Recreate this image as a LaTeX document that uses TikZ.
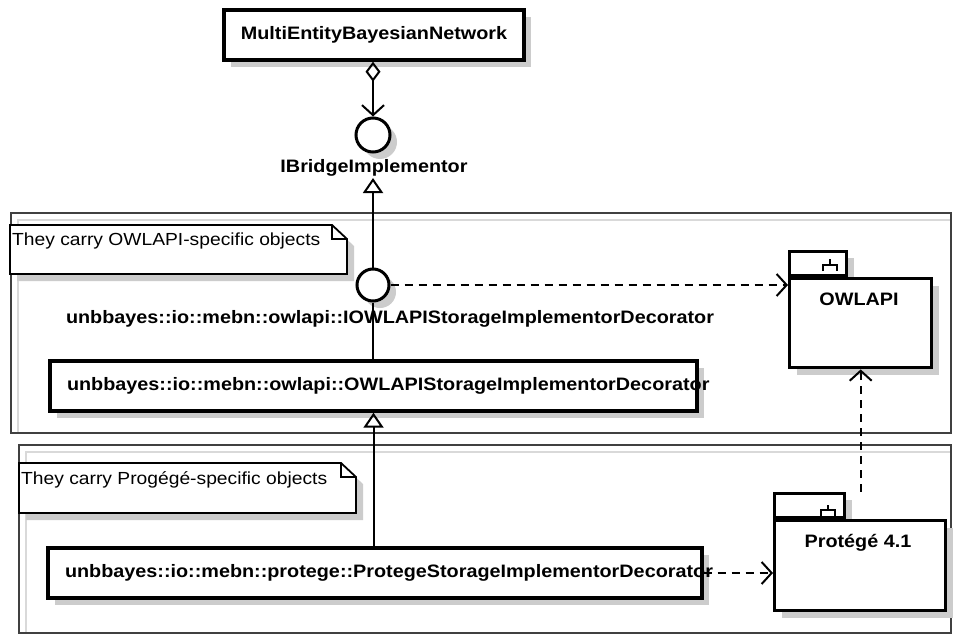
\documentclass[tikz,border=0pt]{standalone}
\usepackage{fontspec}
\newfontfamily\umlfont{Liberation Sans}[FakeStretch=1.1]
\usetikzlibrary{arrows.meta,shadows}
\begin{document}
\begin{tikzpicture}[x=1pt,y=-1pt,
  shad/.style={drop shadow={shadow xshift=7pt,shadow yshift=-7pt,fill=black!20,opacity=1}},
  cls/.style={draw,line width=3.4pt,fill=white,shad,rectangle,inner xsep=17pt,inner ysep=0pt,
    font=\umlfont\bfseries\fontsize{18}{21}\selectfont},
  iface/.style={draw,circle,line width=3pt,fill=white,inner sep=0pt,shad},
  pkg/.style={draw,line width=3.4pt,fill=white,shad,rectangle,inner sep=0pt},
  lbl/.style={font=\umlfont\bfseries\fontsize{18}{21}\selectfont,inner sep=0pt},
  notetxt/.style={font=\umlfont\fontsize{17.5}{20}\selectfont,inner sep=0pt,anchor=north west},
  notebox/.style={draw,line width=1.8pt,fill=white,shad},
  frame/.style={draw=black!75,line width=1.6pt,rectangle,inner sep=0pt,anchor=north west},
  frameshade/.style={draw=black!15,line width=1.2pt},
  conn/.style={line width=2pt},
  icon/.style={line width=1.8pt},
  aggr/.style={line width=2pt,{Diamond[open,length=20pt,width=15pt,line width=2pt]}-{Straight Barb[length=10pt,width=22pt,line width=2pt]}},
  dep/.style={line width=2pt,dash pattern=on 8pt off 6pt,-{Straight Barb[length=10pt,width=22pt,line width=2pt]}},
  real/.style={line width=2pt,-{Triangle[open,length=15pt,width=20pt,line width=2pt]}},
]
\useasboundingbox (0,0) rectangle (953,634);
\fill[white] (0,0) rectangle (953,634);

% frames
\draw[frameshade] (18,432) -- (18,220) -- (950,220);
\node[frame,minimum width=940pt,minimum height=220pt] (fr1) at (10,212) {};
\draw[frameshade] (26,632) -- (26,452) -- (950,452);
\node[frame,minimum width=932pt,minimum height=188pt] (fr2) at (18,444) {};

% notes
\draw[notebox] (10,225) -- (332,225) -- (347,239) -- (347,274) -- (10,274) -- cycle;
\draw[line width=1.8pt] (332,225) -- (332,239) -- (347,239);
\node[notetxt] (n1) at (12,233) {They carry OWLAPI-specific objects};
\draw[notebox] (19,463) -- (341,463) -- (356,477) -- (356,513) -- (19,513) -- cycle;
\draw[line width=1.8pt] (341,463) -- (341,477) -- (356,477);
\node[notetxt] (n2) at (21,471) {They carry Progégé-specific objects};

% classes
\node[cls,minimum width=290pt,minimum height=50pt,align=center] (mebn) at (374,35) {MultiEntityBayesianNetwork};
\node[iface,minimum size=34pt] (c1) at (373,135) {};
\node[lbl,anchor=base] (c1lbl) at (374,172) {IBridgeImplementor};
\coordinate (ibt) at (373,178);

\node[iface,minimum size=32pt] (c2) at (373,285) {};
\node[lbl,anchor=base] (c2lbl) at (390,323) {unbbayes::io::mebn::owlapi::IOWLAPIStorageImplementorDecorator};

\node[cls,minimum height=50pt,text width=613pt,align=left] (owls) at (373.5,386) {unbbayes::io::mebn::owlapi::OWLAPIStorageImplementorDecorator};
\node[cls,minimum height=50pt,text width=620pt,align=left] (prot) at (375,573) {unbbayes::io::mebn::protege::ProtegeStorageImplementorDecorator};

% packages
\node[pkg,minimum width=57pt,minimum height=24pt,anchor=south west] (owtab) at (788,277) {};
\node[pkg,minimum width=142pt,minimum height=89pt,anchor=north west] (owbody) at (788,277) {};
\node[lbl,anchor=base] (owlbl) at (859,305) {OWLAPI};
\draw[icon] (830,259) -- (830,265) (823,271) -- (823,265) -- (837,265) -- (837,271);

\node[pkg,minimum width=70pt,minimum height=24pt,anchor=south west] (ptab) at (773,519) {};
\node[pkg,minimum width=171pt,minimum height=90pt,anchor=north west] (pbody) at (773,519) {};
\node[lbl,anchor=base] (plbl) at (858,547) {Protégé 4.1};
\draw[icon] (828,505) -- (828,510) (821,516) -- (821,510) -- (835,510) -- (835,516);

% connectors
\draw[aggr] (mebn.south -| c1) -- (c1.north);
\draw[real] (c2.north) -- (ibt);
\draw[conn] (c2.south) -- (c2.south |- owls.north);
\draw[real] (owls.south |- prot.north) -- (owls.south);
\draw[dep] (c2.east) -- (c2.east -| owbody.west);
\draw[dep] (prot.east) -- (prot.east -| pbody.west);
\draw[dep] (owbody.south |- ptab.north) -- (owbody.south);
\end{tikzpicture}
\end{document}
